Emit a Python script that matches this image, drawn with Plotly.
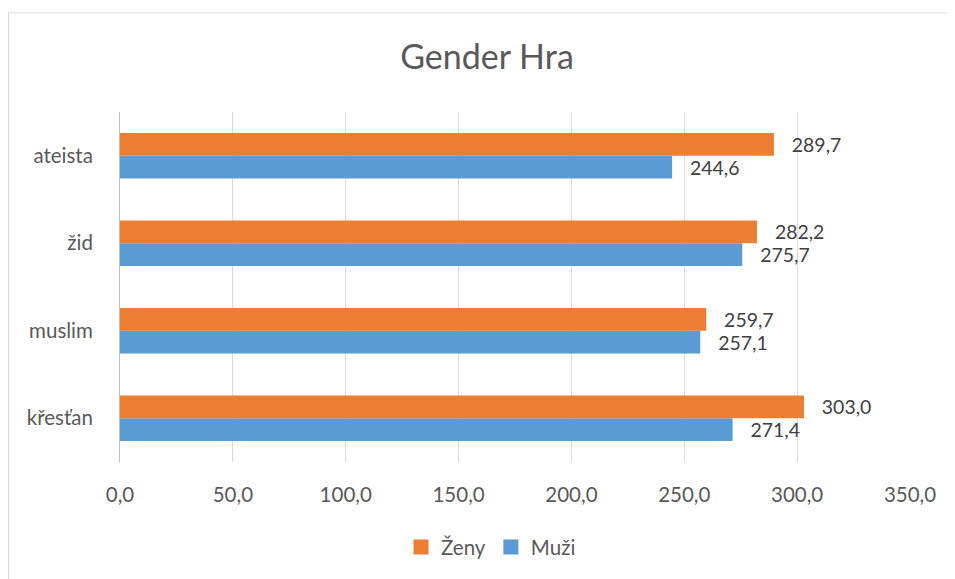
import plotly.graph_objects as go

categories = ["křesťan", "muslim", "žid", "ateista"]
zeny = [303.0, 259.7, 282.2, 289.7]
muzi = [271.4, 257.1, 275.7, 244.6]
tick_vals = [0, 50, 100, 150, 200, 250, 300, 350]

FONT = "Lato, 'Open Sans', sans-serif"
GREY = "#595959"
FS = 20.5
C_Z = "#ED7D31"
C_M = "#5B9BD5"

fig = go.Figure()
fig.add_trace(go.Bar(
    y=categories, x=muzi, name="Muži", orientation="h",
    marker=dict(color=C_M, line=dict(width=0)),
    texttemplate="   %{x:.1f}", textposition="outside",
    textfont=dict(size=FS, color="#404040", family=FONT),
    cliponaxis=False, showlegend=False,
))
fig.add_trace(go.Bar(
    y=categories, x=zeny, name="Ženy", orientation="h",
    marker=dict(color=C_Z, line=dict(width=0)),
    texttemplate="   %{x:.1f}", textposition="outside",
    textfont=dict(size=FS, color="#404040", family=FONT),
    cliponaxis=False, showlegend=False,
))
# legend entries with square swatches
for name, col, rank in [("Ženy", C_Z, 1), ("Muži", C_M, 2)]:
    fig.add_trace(go.Scatter(
        x=[None], y=[None], mode="markers", name=name,
        marker=dict(symbol="square", size=15, color=col),
        legendrank=rank, showlegend=True, hoverinfo="skip",
    ))

W, H = 947, 571
L, R, T, B = 112, 45, 104, 114
plot_w = W - L - R
plot_h = H - T - B

fig.update_layout(
    width=W, height=H,
    margin=dict(l=L, r=R, t=T, b=B),
    paper_bgcolor="white", plot_bgcolor="white",
    separators=", ",
    font=dict(family=FONT, color=GREY, size=FS),
    title=dict(text="Gender Hra", x=479 / W, xanchor="center", y=1 - 49 / H,
               yanchor="middle", font=dict(size=34, color=GREY, family=FONT)),
    barmode="group", bargap=0.48, bargroupgap=0,
    showlegend=True,
    legend=dict(orientation="h", x=(483 - L) / plot_w, xanchor="center",
                y=(H - B - 543) / plot_h, yanchor="middle",
                font=dict(size=FS, color=GREY, family=FONT), itemwidth=30),
    xaxis=dict(range=[0, 350], tickvals=tick_vals, tickformat=".1f",
               showgrid=True, gridcolor="#D9D9D9", gridwidth=1,
               zeroline=False, showline=False, ticks="", ticklabelstandoff=18,
               tickfont=dict(size=FS, color=GREY, family=FONT)),
    yaxis=dict(showgrid=False, zeroline=False, showline=True, linecolor="#BFBFBF",
               linewidth=1, ticks="", ticklabelstandoff=22,
               tickfont=dict(size=FS, color=GREY, family=FONT)),
    shapes=[dict(type="rect", xref="paper", yref="paper",
                 x0=(0.5 - L) / plot_w, x1=(W + 10 - L) / plot_w,
                 y0=-(B + 10) / plot_h, y1=(H - B - 4) / plot_h,
                 line=dict(color="#D9D9D9", width=1), layer="below")],
)

fig.write_html("out.html")
